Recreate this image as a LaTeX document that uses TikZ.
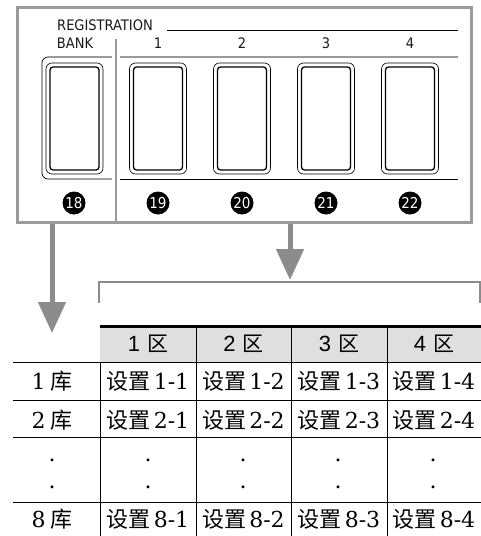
\documentclass[tikz,border=0pt]{standalone}
\usepackage{fontspec}
\usepackage{graphicx}
\setmainfont{DejaVu Serif}
\newfontfamily\cjk{Noto Sans CJK SC}
\newfontfamily\hsans{Liberation Sans}
\newfontfamily\panelfont{DejaVu Sans Condensed}
\usetikzlibrary{arrows.meta}
\definecolor{panelgray}{HTML}{9A9A9A}
\definecolor{arrowgray}{HTML}{8C8C8C}
\definecolor{headgray}{HTML}{DFDFDF}
\begin{document}
\begin{tikzpicture}[x=1pt,y=-1pt,
  paneltxt/.style={inner sep=0pt, anchor=base, text=black!90, font=\panelfont\fontsize{14.5}{14.5}\selectfont},
  numcirc/.style={circle, fill=black, minimum size=23pt, inner sep=0pt, text=white, font=\panelfont\fontsize{15}{15}\selectfont},
  btnouter/.style={draw=black, line width=0.6pt, rounded corners=6pt},
  btninner/.style={draw=black, line width=1.3pt, rounded corners=3pt},
  cell/.style={inner sep=0pt, anchor=base, font=\fontsize{22}{22}\selectfont},
  headcell/.style={inner sep=0pt, anchor=base},
  rule/.style={draw=black, line width=0.8pt},
  grayline/.style={draw=panelgray, line width=1.3pt},
  bigarrow/.style={draw=arrowgray, line width=5pt, -{Triangle[length=31pt,width=27pt]}},
]
\useasboundingbox (0,0) rectangle (481,536);
% ---------- panel ----------
\draw[draw=panelgray, line width=3pt] (17,7) rectangle (471,222);
\node[paneltxt, anchor=base west] (reg) at (57,30) {REGISTRATION};
\draw[black, line width=0.8pt] (167,30) -- (458,30);
\node[paneltxt] (bank) at (75,48) {BANK};
\foreach \i/\x in {1/158,2/242,3/326,4/410}
  \node[paneltxt] (lab\i) at (\x,48) {\i};
\draw[draw=panelgray, line width=2.5pt] (116,39) -- (116,222);
% bank frame
\draw[black, line width=0.7pt, rounded corners=6pt] (48.5,57) -- (42,57) -- (42,179) -- (112,179);
\draw[grayline] (48,57) -- (112,57);
\draw[grayline] (120,57) -- (458,57);
\draw[black, line width=0.8pt] (120,179) -- (458,179);
% buttons
\foreach \c in {74.5,158,242,326,410}{
  \draw[btnouter] (\c-28.5,63) rectangle (\c+28.5,174);
  \draw[btninner] (\c-24.5,67) rectangle (\c+24.5,170);
}
\node[numcirc] (n18) at (74,203) {18};
\node[numcirc] (n19) at (158,203) {19};
\node[numcirc] (n20) at (242,203) {20};
\node[numcirc] (n21) at (326,203) {21};
\node[numcirc] (n22) at (410,203) {22};
% ---------- arrows ----------
\coordinate (la0) at (52,224);
\coordinate (la1) at (52,333);
\draw[bigarrow] (la0) -- (la1);
\coordinate (ra0) at (290,224);
\coordinate (ra1) at (290,280);
\draw[bigarrow] (ra0) -- (ra1);
\coordinate (bl) at (99,303);
\coordinate (br) at (480,303);
\draw[draw=arrowgray, line width=2pt] (bl) -- (99,282) -- (480,282) -- (br);
% ---------- table ----------
\fill[headgray] (100,326) rectangle (481,362);
\draw[black, line width=3pt] (100,326) -- (481,326);
\foreach \x in {196,291,387}
  \draw[rule] (\x,326) -- (\x,362);
\foreach \y in {362,400,437,502}
  \draw[rule] (13,\y) -- (481,\y);
\foreach \x in {100,196,291,387}
  \draw[rule] (\x,362) -- (\x,536);
\foreach \i/\x in {1/148,2/243.5,3/339,4/434}
  \node[headcell] (h\i) at (\x,351) {{\hsans\fontsize{22}{22}\selectfont \i}\hspace{7pt}{\cjk\fontsize{21}{21}\selectfont 区}};
\foreach \r/\y in {1/389,2/428,8/527}{
  \node[cell] (r\r) at (52,\y) {\r\hspace{5pt}{\cjk 库}};
  \foreach \k/\x in {1/148,2/243.5,3/339,4/434}
    \node[cell] (c\r\k) at (\x,\y) {{\cjk 设置}\hspace{3pt}\r-\k};
}
\foreach \y [count=\j] in {461.5,488.5}
  \foreach \k/\x in {0/52,1/148,2/243,3/338,4/433}
    \node[cell] (d\j\k) at (\x,\y) {.};
\end{tikzpicture}
\end{document}
